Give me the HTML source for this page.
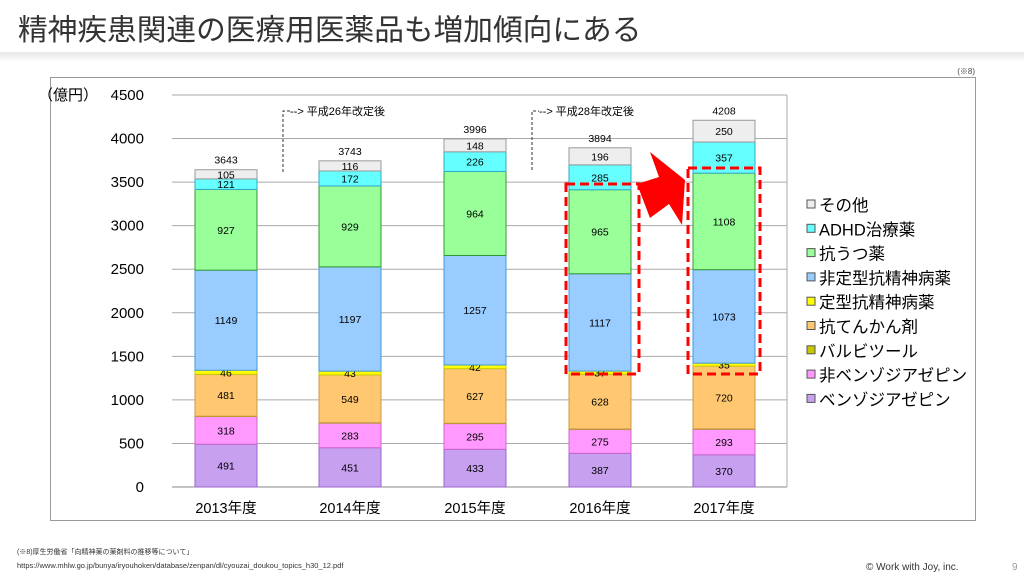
<!DOCTYPE html>
<html><head><meta charset="utf-8">
<style>
html,body{margin:0;padding:0;background:#fff;}
body{width:1024px;height:576px;position:relative;overflow:hidden;font-family:"Liberation Sans","Noto Sans CJK JP",sans-serif;}
.title{position:absolute;left:18px;top:6px;font-size:29.7px;color:#333;letter-spacing:0px;}
.band{position:absolute;left:0;top:52px;width:1024px;height:10px;background:linear-gradient(#e6e6e6,#fff);}
svg{position:absolute;left:0;top:0;}
</style></head><body>
<div class="title">精神疾患関連の医療用医薬品も増加傾向にある</div>
<div class="band"></div>
<svg id="s" width="1024" height="576" xmlns="http://www.w3.org/2000/svg" font-family="Liberation Sans, Noto Sans CJK JP, sans-serif"></svg>
<script>
const s=document.getElementById('s');let h='';
const y0=487,k=392/4500;
h+='<text x="975" y="74" font-size="8" fill="#444" text-anchor="end">(※8)</text>';
h+='<rect x="50.5" y="77.5" width="925" height="443" fill="#fff" stroke="#999"/>';
for(let i=0;i<=9;i++){const y=y0-i*500*k;
 if(i>0)h+=`<line x1="172" x2="787" y1="${y}" y2="${y}" stroke="#aaa"/>`;
 h+=`<text x="144" y="${y+5}" font-size="15" fill="#000" text-anchor="end">${i*500}</text>`;}
h+='<line x1="172" x2="787" y1="487" y2="487" stroke="#888"/><line x1="787" x2="787" y1="95" y2="487" stroke="#aaa"/>';
h+='<text x="38" y="100" font-size="15" fill="#000">（億円）</text>';
const cols=['#c8a0f0','#ff99ff','#c8c800','#ffc870','#ffff00','#99ccff','#99ff99','#66ffff','#eeeeee'];
const strokes=['#9966cc','#cc66cc','#999900','#cc9944','#cccc00','#4499dd','#339933','#33aacc','#999'];
const data=[[491,318,4,481,46,1149,927,121,105,3643],[451,283,4,549,43,1197,929,172,116,3743],[433,295,4,627,42,1257,964,226,148,3996],[387,275,4,628,37,1117,965,285,196,3894],[370,293,4,720,35,1073,1108,357,250,4208]];
const cx=[226,350,475,600,724],years=['2013年度','2014年度','2015年度','2016年度','2017年度'];
data.forEach((d,j)=>{let acc=0;const x=cx[j]-31;
 for(let i=0;i<9;i++){const yt=y0-(acc+d[i])*k,hh=d[i]*k;
  h+=`<rect x="${x}" y="${yt}" width="62" height="${hh}" fill="${cols[i]}" stroke="${strokes[i]}" stroke-width="1"/>`;
  if(!(i==2&&j==3)){let ty=yt+hh/2+4;if(i==2)ty=yt-0;
   h+=`<text x="${cx[j]}" y="${ty}" font-size="10.5" fill="#000" text-anchor="middle">${d[i]}</text>`;}
  acc+=d[i];}
 h+=`<text x="${cx[j]}" y="${y0-acc*k-6}" font-size="10.5" fill="#000" text-anchor="middle">${d[9]}</text>`;
 h+=`<text x="${cx[j]}" y="513" font-size="14.5" fill="#000" text-anchor="middle">${years[j]}</text>`;});
h+='<path d="M283 172 V111 H290" fill="none" stroke="#333" stroke-dasharray="3,2"/><text x="290" y="115" font-size="11">--&gt; 平成26年改定後</text>';
h+='<path d="M532 170 V111 H539" fill="none" stroke="#333" stroke-dasharray="3,2"/><text x="539" y="115" font-size="11">--&gt; 平成28年改定後</text>';
h+='<rect x="566" y="184" width="73" height="190" fill="none" stroke="#f00" stroke-width="3" stroke-dasharray="9,5"/>';
h+='<rect x="688" y="168" width="72" height="206" fill="none" stroke="#f00" stroke-width="3" stroke-dasharray="9,5"/>';
h+='<polygon points="637,184 659,177 650,152 685,180 682,225 669,204 650,218" fill="#f00"/>';
const leg=['その他','ADHD治療薬','抗うつ薬','非定型抗精神病薬','定型抗精神病薬','抗てんかん剤','バルビツール','非ベンゾジアゼピン','ベンゾジアゼピン'];
for(let i=0;i<9;i++){const y=206+i*24.3,c=8-i;
 h+=`<rect x="807" y="${y-6}" width="8" height="8" fill="${cols[c]}" stroke="#555"/>`;
 h+=`<text x="819" y="${y+5}" font-size="16.5" fill="#000">${leg[i]}</text>`;}
h+='<text x="17" y="554" font-size="7" fill="#333">(※8)厚生労働省「向精神薬の薬剤料の推移等について」</text>';
h+='<text x="17" y="568" font-size="7.5" fill="#333">https://www.mhlw.go.jp/bunya/iryouhoken/database/zenpan/dl/cyouzai_doukou_topics_h30_12.pdf</text>';
h+='<text x="866" y="570" font-size="10" fill="#333">© Work with Joy, inc.</text>';
h+='<text x="1012" y="570" font-size="10" fill="#999">9</text>';
s.innerHTML=h;
</script>
</body></html>
